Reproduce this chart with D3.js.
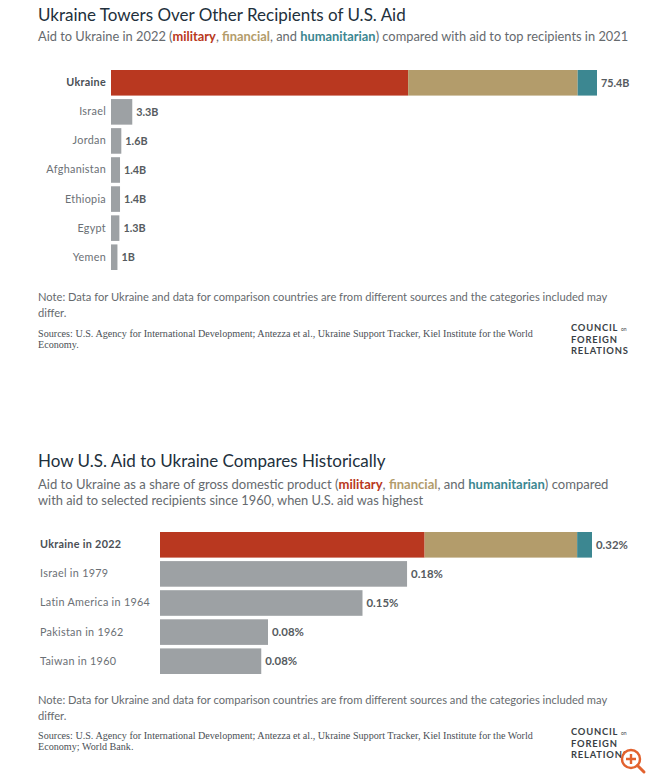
<!DOCTYPE html>
<html>
<head>
<meta charset="utf-8">
<script src="https://cdn.jsdelivr.net/npm/d3@7"></script>
<style>
	html, body { margin: 0; padding: 0; background: #fff; }
	svg { display: block; }
	text { font-family: Lato, "Open Sans", sans-serif; }
	.tick line, .domain { display: none; }
</style>
</head>
<body>
<svg id="chart" width="650" height="777"></svg>
<script>
// Chart 1: billions of dollars
var recipients = ["Ukraine", "Israel", "Jordan", "Afghanistan", "Ethiopia", "Egypt", "Yemen"];
var aidValues = [null, 3.3, 1.6, 1.4, 1.4, 1.3, 1];
var aidLabels = ["75.4B", "3.3B", "1.6B", "1.4B", "1.4B", "1.3B", "1B"];
var ukraineAid = [46.1, 26.3, 3.0]; // military, financial, humanitarian

// Chart 2: share of GDP, percent
var historicRecipients = ["Ukraine in 2022", "Israel in 1979", "Latin America in 1964", "Pakistan in 1962", "Taiwan in 1960"];
var historicValues = [null, 0.183, 0.15, 0.08, 0.075];
var historicLabels = ["0.32%", "0.18%", "0.15%", "0.08%", "0.08%"];
var ukraineShare = [0.196, 0.113, 0.011];

var aidTypes = ["military", "financial", "humanitarian"];
var colors = { military: "#b93820", financial: "#b39c6b", humanitarian: "#3c8791", other: "#9da1a4" };

var svg = d3.select("#chart");

function drawTitle(title, y) {
	svg.append("text").attr("x", 38).attr("y", y)
		.attr("font-size", 17).attr("fill", "#22303c").text(title);
}

// parts = [text, aidType or null]
function drawSubtitle(parts, y, size) {
	var t = svg.append("text").attr("x", 38).attr("y", y)
		.attr("font-size", size).attr("fill", "#666a6e");
	parts.forEach(function (p) {
		t.append("tspan").text(p[0])
			.attr("fill", p[1] ? colors[p[1]] : null)
			.attr("font-weight", p[1] ? 700 : null);
	});
}

function drawNote(y) {
	var lines = ["Note: Data for Ukraine and data for comparison countries are from different sources and the categories included may", "differ."];
	lines.forEach(function (line, i) {
		svg.append("text").attr("x", 38).attr("y", y + i * 16)
			.attr("font-size", 11.15).attr("fill", "#666a6e").text(line);
	});
}

function drawSources(lines, y) {
	lines.forEach(function (line, i) {
		svg.append("text").attr("x", 38).attr("y", y + i * 11)
			.attr("font-size", 10.15).attr("fill", "#4a4f55")
			.style("font-family", "'Liberation Serif', serif").text(line);
	});
}

function drawLogo(y) {
	["COUNCIL", "FOREIGN", "RELATIONS"].forEach(function (word, i) {
		svg.append("text").attr("x", 571).attr("y", y + i * 11.5)
			.attr("font-size", 9.4).attr("font-weight", 700).attr("letter-spacing", 0.8)
			.attr("fill", "#3a3f45").text(word);
	});
	svg.append("text").attr("x", 621).attr("y", y)
		.attr("font-size", 5).attr("fill", "#3a3f45").text("on");
}

function drawBars(opts) {
	var y = d3.scaleBand().domain(opts.names).range(opts.yRange).paddingInner(0.12).paddingOuter(0);
	var x = d3.scaleLinear().domain([0, opts.max]).range(opts.xRange);

	var axis = svg.append("g")
		.attr("transform", "translate(" + opts.axisX + ",0)")
		.call(d3.axisLeft(y).tickSize(0).tickPadding(0));
	axis.selectAll("text")
		.attr("font-size", opts.labelSize)
		.attr("fill", function (d, i) { return i == 0 ? "#4a4f55" : "#6b7075"; })
		.attr("font-weight", function (d, i) { return i == 0 ? 700 : 400; })
		.attr("text-anchor", opts.labelAnchor)
		.attr("letter-spacing", 0.3);

	// stacked first bar
	var stackStart = 0;
	var segments = opts.stack.map(function (v, i) {
		var s = { type: aidTypes[i], start: stackStart, end: stackStart + v };
		stackStart += v;
		return s;
	});
	svg.append("g").selectAll("rect").data(segments).enter().append("rect")
		.attr("x", function (d) { return x(d.start); })
		.attr("width", function (d) { return x(d.end) - x(d.start); })
		.attr("y", y(opts.names[0]))
		.attr("height", y.bandwidth())
		.attr("fill", function (d) { return colors[d.type]; });

	// grey bars
	svg.append("g").selectAll("rect").data(opts.names.slice(1)).enter().append("rect")
		.attr("x", x(0))
		.attr("y", function (d) { return y(d); })
		.attr("width", function (d, i) { return x(opts.values[i + 1]) - x(0); })
		.attr("height", y.bandwidth())
		.attr("fill", colors.other);

	// value labels
	svg.append("g").selectAll("text").data(opts.names).enter().append("text")
		.attr("x", function (d, i) { return x(i == 0 ? stackStart : opts.values[i]) + 4; })
		.attr("y", function (d) { return y(d) + y.bandwidth() / 2; })
		.attr("dy", "0.35em")
		.attr("font-size", opts.valueSize)
		.attr("font-weight", 700)
		.attr("fill", "#565b60")
		.text(function (d, i) { return opts.labels[i]; });
}

drawTitle("Ukraine Towers Over Other Recipients of U.S. Aid", 21);
drawSubtitle([["Aid to Ukraine in 2022 ("], ["military", "military"], [", "], ["financial", "financial"], [", and "], ["humanitarian", "humanitarian"], [") compared with aid to top recipients in 2021"]], 41, 12.85);
drawBars({
	names: recipients, values: aidValues, labels: aidLabels, stack: ukraineAid,
	max: 75.4, xRange: [111, 597], yRange: [70, 270],
	axisX: 106, labelSize: 10.8, valueSize: 10.8, labelAnchor: "end"
});
drawNote(301);
drawSources(["Sources: U.S. Agency for International Development; Antezza et al., Ukraine Support Tracker, Kiel Institute for the World", "Economy."], 337);
drawLogo(331);

drawTitle("How U.S. Aid to Ukraine Compares Historically", 467);
drawSubtitle([["Aid to Ukraine as a share of gross domestic product ("], ["military", "military"], [", "], ["financial", "financial"], [", and "], ["humanitarian", "humanitarian"], [") compared"]], 489, 13.05);
drawSubtitle([["with aid to selected recipients since 1960, when U.S. aid was highest"]], 505, 12.85);
drawBars({
	names: historicRecipients, values: historicValues, labels: historicLabels, stack: ukraineShare,
	max: 0.32, xRange: [160, 592], yRange: [532, 674],
	axisX: 40, labelSize: 10.8, valueSize: 11.4, labelAnchor: "start"
});
drawNote(704);
drawSources(["Sources: U.S. Agency for International Development; Antezza et al., Ukraine Support Tracker, Kiel Institute for the World", "Economy; World Bank."], 739);
drawLogo(735);

// zoom badge sitting in the corner of the screenshot
var badge = svg.append("g").attr("fill", "none").attr("stroke", "#e2622f").attr("stroke-width", 2.4);
badge.append("circle").attr("cx", 631).attr("cy", 759).attr("r", 9).attr("fill", "#fff");
badge.append("path").attr("d", "M637.5 765.5L644 772").attr("stroke-width", 3).attr("stroke-linecap", "round");
badge.append("path").attr("d", "M626 759H636M631 754V764");
</script>
</body>
</html>
